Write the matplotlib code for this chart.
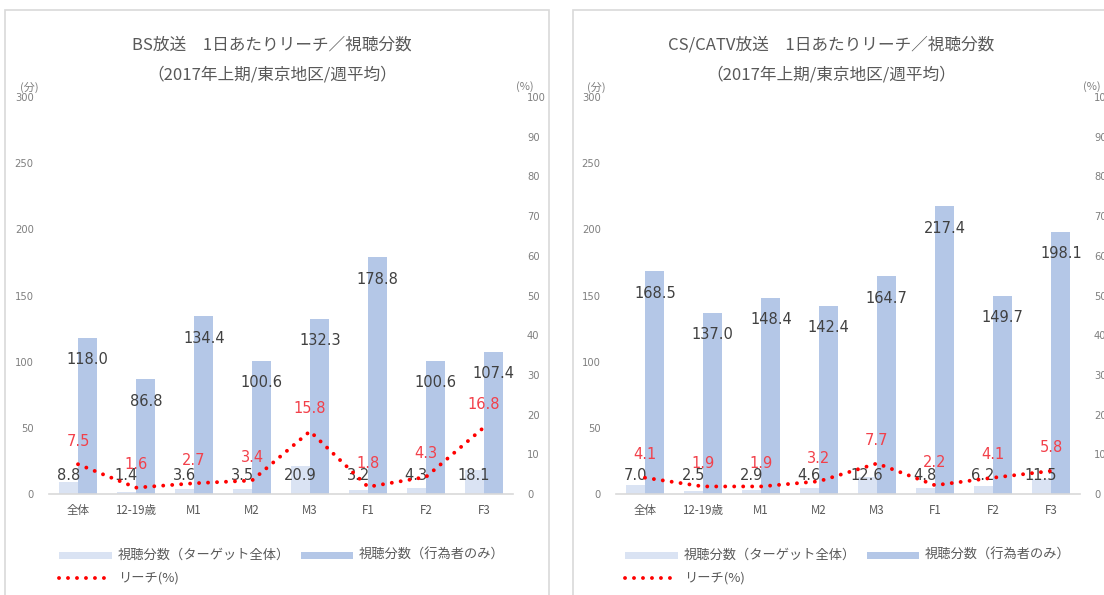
import matplotlib
matplotlib.use("Agg")
import matplotlib.pyplot as plt
import numpy as np
from matplotlib.patches import Rectangle
from matplotlib.lines import Line2D

plt.rcParams['font.family'] = ['DejaVu Sans', 'Noto Sans CJK JP']
CJK = ['Noto Sans CJK JP', 'DejaVu Sans']

# ---------------- data ----------------
categories = ['全体', '12-19歳', 'M1', 'M2', 'M3', 'F1', 'F2', 'F3']

bs_target = [8.8, 1.4, 3.6, 3.5, 20.9, 3.2, 4.3, 18.1]
bs_doers = [118.0, 86.8, 134.4, 100.6, 132.3, 178.8, 100.6, 107.4]
bs_reach = [7.5, 1.6, 2.7, 3.4, 15.8, 1.8, 4.3, 16.8]

cs_target = [7.0, 2.5, 2.9, 4.6, 12.6, 4.8, 6.2, 11.5]
cs_doers = [168.5, 137.0, 148.4, 142.4, 164.7, 217.4, 149.7, 198.1]
cs_reach = [4.1, 1.9, 1.9, 3.2, 7.7, 2.2, 4.1, 5.8]

left_ticks = [0, 50, 100, 150, 200, 250, 300]
right_ticks = [0, 10, 20, 30, 40, 50, 60, 70, 80, 90, 100]

bs_title = 'BS放送　1日あたりリーチ／視聴分数'
cs_title = 'CS/CATV放送　1日あたりリーチ／視聴分数'
subtitle = '（2017年上期/東京地区/週平均）'
legend_target = '視聴分数（ターゲット全体）'
legend_doers = '視聴分数（行為者のみ）'
legend_reach = 'リーチ(%)'
unit_left = '(分)'
unit_right = '(%)'

# ---------------- style ----------------
W, H = 1104, 595
C_LIGHT = '#dae3f3'
C_DARK = '#b4c7e7'
C_RED = '#ff0000'
C_REDTXT = '#f2404a'
C_TXT = '#404040'
C_GRAY = '#7f7f7f'
C_TITLE = '#595959'
C_BORDER = '#d9d9d9'
DOTS = (0, (0.01, 2.3))

fig = plt.figure(figsize=(W / 100, H / 100), dpi=100)
fig.patch.set_facecolor('white')


def fx(px):
    return px / W


def fy(py):
    return 1 - py / H


def panel(x0, x1):
    fig.add_artist(Rectangle((fx(x0), -0.02), fx(x1) - fx(x0), fy(10) + 0.02,
                             transform=fig.transFigure, fill=False,
                             edgecolor=C_BORDER, lw=1.2))


def draw(ax_left_px, title, title_x, target, doers, reach, leg):
    ax = fig.add_axes([fx(ax_left_px), fy(494), 464 / W, 397 / H])
    ax2 = ax.twinx()
    x = np.arange(len(categories))
    w = 0.33
    off = 0.17
    ax.bar(x - off, target, w, color=C_LIGHT, zorder=2)
    ax.bar(x + off, doers, w, color=C_DARK, zorder=2)
    ax.set_xlim(-0.5, len(categories) - 0.5)
    ax.set_ylim(0, 300)
    ax.set_yticks(left_ticks)
    ax2.set_ylim(0, 100)
    ax2.set_yticks(right_ticks)
    ax.set_xticks(x)
    ax.set_xticklabels(categories, family=CJK)
    for s in ['top', 'left', 'right']:
        ax.spines[s].set_visible(False)
    ax.spines['bottom'].set_color(C_BORDER)
    ax.spines['bottom'].set_linewidth(1.2)
    for s in ax2.spines.values():
        s.set_visible(False)
    ax.tick_params(axis='y', length=0, pad=11, labelsize=7.2, labelcolor=C_GRAY)
    ax.tick_params(axis='x', length=0, pad=7, labelsize=8.3, labelcolor=C_TITLE)
    ax2.tick_params(axis='y', length=0, pad=10, labelsize=7.2, labelcolor=C_GRAY)
    ax.patch.set_visible(False)

    for xi, v in zip(x, target):
        ax.annotate(f'{v:.1f}', (xi - off, 0), xytext=(0, 19), textcoords='offset pixels',
                    ha='center', va='center', fontsize=10.5, color=C_TXT, zorder=4)
    for xi, v in zip(x, doers):
        ax.annotate(f'{v:.1f}', (xi + off, v), xytext=(0, -22), textcoords='offset pixels',
                    ha='center', va='center', fontsize=10.5, color=C_TXT, zorder=4)

    ax2.plot(x, reach, color=C_RED, lw=2.8, linestyle=DOTS, dash_capstyle='round', zorder=3)
    for xi, r in zip(x, reach):
        ax2.annotate(f'{r:.1f}', (xi, r), xytext=(0, 23), textcoords='offset pixels',
                     ha='center', va='center', fontsize=10.5, color=C_REDTXT, zorder=5)

    fig.text(fx(title_x), fy(45), title, ha='center', va='center', fontsize=12,
             color=C_TITLE, family=CJK)
    fig.text(fx(title_x), fy(75), subtitle, ha='center', va='center', fontsize=12,
             color=C_TITLE, family=CJK)
    fig.text(fx(ax_left_px - 20), fy(87), unit_left, ha='center', va='center', fontsize=8,
             color=C_GRAY, family=CJK)
    fig.text(fx(ax_left_px + 476), fy(87), unit_right, ha='center', va='center', fontsize=8,
             color=C_GRAY, family=CJK)

    # legend
    lx = leg
    fig.add_artist(Rectangle((fx(lx), fy(558.5)), 53 / W, 7 / H, transform=fig.transFigure,
                             facecolor=C_LIGHT, edgecolor='none'))
    fig.text(fx(lx + 59), fy(555), legend_target, ha='left', va='center', fontsize=9.5,
             color=C_TITLE, family=CJK)
    fig.add_artist(Rectangle((fx(lx + 242), fy(558.5)), 52 / W, 7 / H, transform=fig.transFigure,
                             facecolor=C_DARK, edgecolor='none'))
    fig.text(fx(lx + 300), fy(555), legend_doers, ha='left', va='center', fontsize=9.5,
             color=C_TITLE, family=CJK)
    fig.add_artist(Line2D([fx(lx), fx(lx + 53)], [fy(578), fy(578)], transform=fig.transFigure,
                          color=C_RED, lw=2.8, linestyle=DOTS, dash_capstyle='round'))
    fig.text(fx(lx + 59), fy(578), legend_reach, ha='left', va='center', fontsize=9.5,
             color=C_TITLE, family=CJK)


panel(5, 549)
panel(573, 1130)
draw(49, bs_title, 272, bs_target, bs_doers, bs_reach, 59)
draw(616, cs_title, 831, cs_target, cs_doers, cs_reach, 625)

fig.savefig('out.png', dpi=100, facecolor='white')
